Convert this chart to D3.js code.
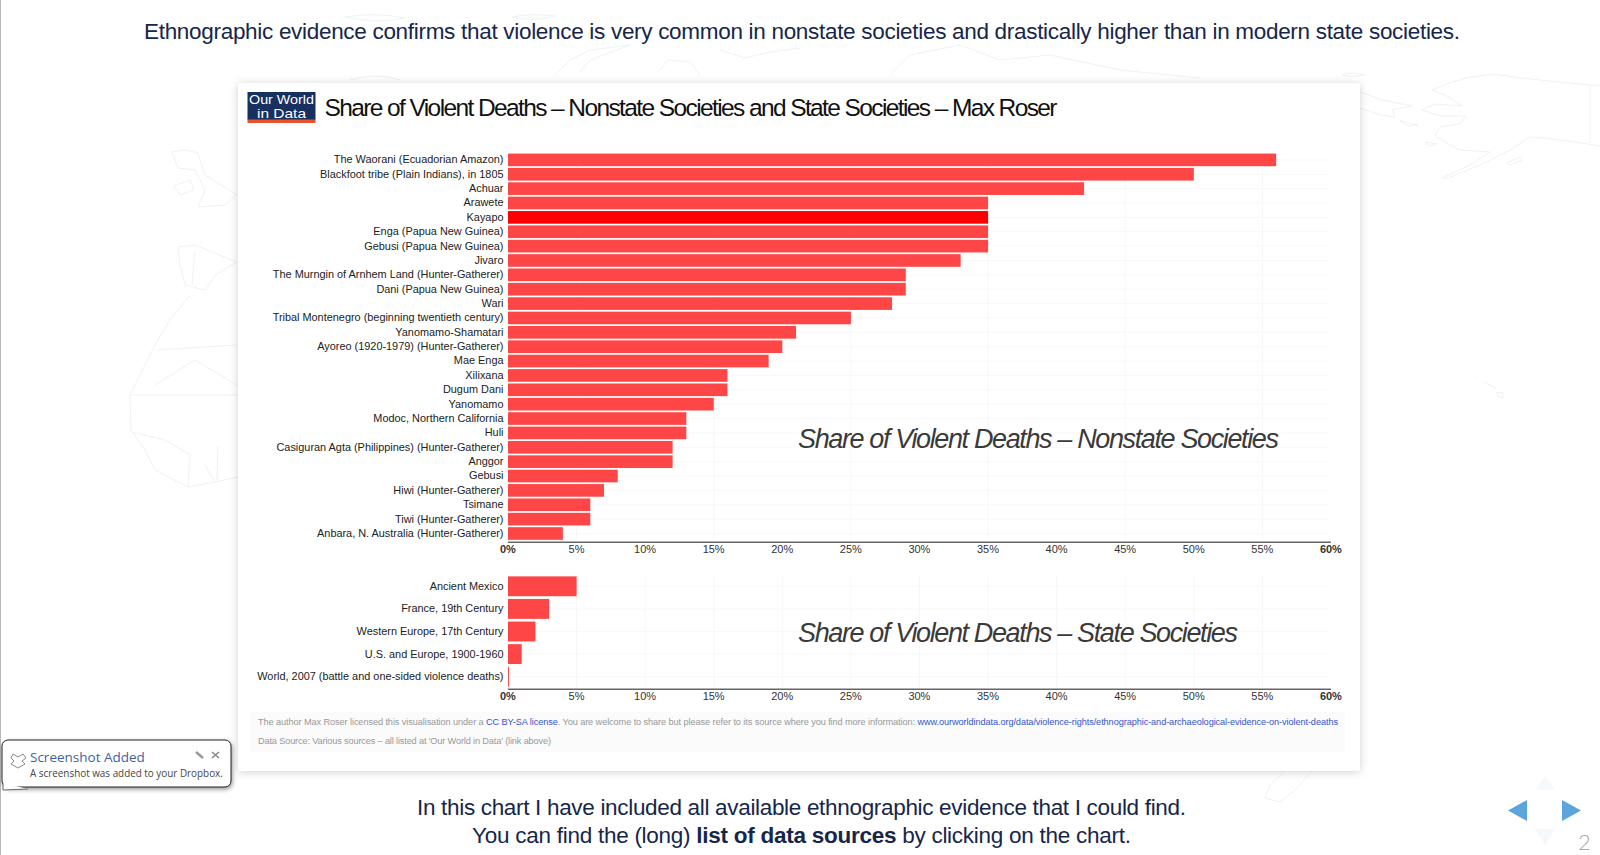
<!DOCTYPE html>
<html>
<head>
<meta charset="utf-8">
<script src="https://cdn.jsdelivr.net/npm/d3@7"></script>
<style>
  html, body { margin: 0; padding: 0; background: #fff; overflow: hidden; }
  svg { display: block; font-family: "Liberation Sans", Arial, sans-serif; }
</style>
</head>
<body>
<svg id="slide" width="1600" height="855"></svg>
<script>
var nonstateNames = [
  "The Waorani (Ecuadorian Amazon)", "Blackfoot tribe (Plain Indians), in 1805", "Achuar", "Arawete",
  "Kayapo", "Enga (Papua New Guinea)", "Gebusi (Papua New Guinea)", "Jivaro",
  "The Murngin of Arnhem Land (Hunter-Gatherer)", "Dani (Papua New Guinea)", "Wari",
  "Tribal Montenegro (beginning twentieth century)", "Yanomamo-Shamatari", "Ayoreo (1920-1979) (Hunter-Gatherer)",
  "Mae Enga", "Xilixana", "Dugum Dani", "Yanomamo", "Modoc, Northern California", "Huli",
  "Casiguran Agta (Philippines) (Hunter-Gatherer)", "Anggor", "Gebusi", "Hiwi (Hunter-Gatherer)",
  "Tsimane", "Tiwi (Hunter-Gatherer)", "Anbara, N. Australia (Hunter-Gatherer)"
];
var nonstateValues = [56, 50, 42, 35, 35, 35, 35, 33, 29, 29, 28, 25, 21, 20, 19, 16, 16, 15, 13, 13, 12, 12, 8, 7, 6, 6, 4];
var stateNames = [
  "Ancient Mexico", "France, 19th Century", "Western Europe, 17th Century",
  "U.S. and Europe, 1900-1960", "World, 2007 (battle and one-sided violence deaths)"
];
var stateValues = [5, 3, 2, 1, 0.07];
var highlighted = "Kayapo";
var xTicks = [0, 5, 10, 15, 20, 25, 30, 35, 40, 45, 50, 55, 60];

// faint world map behind the card, traced by eye
var mapOutlines = [
  "M1600,86 L1590,85 L1560,82 L1520,78 L1494,74 L1470,77 L1452,82 L1432,90 L1445,95 L1462,106 L1435,104 L1422,110 L1440,116 L1466,116 L1460,124 L1440,127 L1435,135 L1445,142 L1460,150 L1490,152 L1470,165 L1442,178 L1448,178 L1480,165 L1510,150 L1525,140 L1530,137 L1545,138 L1575,142 L1600,146",
  "M1590,85 L1590,143",
  "M1360,92 L1382,100 L1412,106 L1392,110 L1395,117 L1380,115 L1360,108",
  "M1342,75 Q1352,71 1364,75 Q1352,78 1342,75",
  "M1400,121 L1418,125 L1408,126 Z", "M1425,142 L1437,144 L1430,146 Z",
  "M1506,163 L1520,157 L1522,160 L1510,165 Z",
  "M1476,378 L1478,378 M1484,382 L1496,388 M1497,392 L1503,393 L1503,398 L1498,396 Z",
  "M172,152 L185,150 L198,153 L205,175 L237,195 L225,205 L198,207 L205,190 L195,170 L178,168 Z",
  "M174,186 L190,180 L194,190 L180,195 Z",
  "M178,247 L195,245 L237,262 L215,275 L205,290 L185,285 L180,265 Z",
  "M195,250 L192,285",
  "M190,295 L170,320 L155,345 L130,395 L131,430 L145,450 L155,470 L188,487 L215,482 L238,477",
  "M158,350 L237,345 M195,360 L237,385 M155,385 L195,360 M130,395 L237,395",
  "M132,432 L165,440 L190,455 L188,487 M205,465 L215,482 M218,446 L217,480",
  "M345,17 Q375,12 405,18 Q380,24 345,17", "M512,17 Q530,13 555,16 Q535,22 512,17",
  "M555,75 L570,60 L590,50 L630,45 L590,60 L580,72", "M660,70 L668,60 L690,62 L700,75",
  "M720,50 L745,58 L770,52 L800,48", "M350,80 Q375,72 400,80",
  "M890,75 L910,55 L960,45 L1000,60 L1050,55 L1120,70 L1200,78",
  "M1285,771 L1270,785 L1265,798 L1280,802 L1295,790 L1312,771"
];

var svg = d3.select("#slide");

var maps = svg.append("g").attr("fill", "none").attr("stroke", "#edf3f7").attr("stroke-width", 1);
maps.selectAll("path").data(mapOutlines).enter().append("path").attr("d", (d) => d);

// grey edge of the slide
svg.append("rect").attr("x", 0).attr("y", 0).attr("width", 1).attr("height", 855).attr("fill", "#b8b8b8");

function slideText(str, x, y, width) {
  return svg.append("text")
    .attr("x", x).attr("y", y)
    .attr("font-size", 22.5)
    .attr("fill", "#16264a")
    .attr("textLength", width)
    .attr("lengthAdjust", "spacing")
    .text(str);
}
slideText("Ethnographic evidence confirms that violence is very common in nonstate societies and drastically higher than in modern state societies.", 144, 39, 1316);
slideText("In this chart I have included all available ethnographic evidence that I could find.", 417, 815, 769);

var lastLine = svg.append("text").attr("x", 472).attr("y", 843).attr("font-size", 22.5).attr("fill", "#16264a")
  .attr("textLength", 659).attr("lengthAdjust", "spacing");
lastLine.append("tspan").text("You can find the (long) ");
lastLine.append("tspan").attr("font-weight", "bold").text("list of data sources");
lastLine.append("tspan").text(" by clicking on the chart.");

// the card holding the chart
svg.append("rect")
  .attr("x", 238).attr("y", 83).attr("width", 1122).attr("height", 688)
  .attr("fill", "#fff")
  .style("filter", "drop-shadow(0 1px 4px rgba(0,0,0,0.18))");

// logo
svg.append("rect").attr("x", 247.5).attr("y", 92).attr("width", 68).attr("height", 28).attr("fill", "#17305f");
svg.append("rect").attr("x", 247.5).attr("y", 119.5).attr("width", 68).attr("height", 3.5).attr("fill", "#e8532b");
svg.append("text").attr("x", 249).attr("y", 103.5).attr("font-size", 12.8).attr("fill", "#fff")
  .attr("textLength", 65).attr("lengthAdjust", "spacingAndGlyphs").text("Our World");
svg.append("text").attr("x", 257).attr("y", 118).attr("font-size", 12.8).attr("fill", "#fff")
  .attr("textLength", 49).attr("lengthAdjust", "spacingAndGlyphs").text("in Data");

svg.append("text")
  .attr("x", 324.5).attr("y", 115.5)
  .attr("font-size", 24.5).attr("fill", "#111")
  .attr("textLength", 733).attr("lengthAdjust", "spacing")
  .text("Share of Violent Deaths \u2013 Nonstate Societies and State Societies \u2013 Max Roser");

var x = d3.scaleLinear().domain([0, 60]).range([508, 1331]);

function drawPanel(names, values, y0, y1, axisY, gridTicks) {
  var y = d3.scaleBand().domain(names).range([y0, y1]).paddingInner(0.12).paddingOuter(0.06);
  var g = svg.append("g");

  // faint grid
  g.selectAll("line.h").data(names).enter().append("line")
    .attr("class", "h")
    .attr("x1", x(0)).attr("x2", 1328)
    .attr("y1", (d) => y(d) + y.bandwidth() / 2).attr("y2", (d) => y(d) + y.bandwidth() / 2)
    .attr("stroke", "#f8f8f8");
  g.selectAll("line.v").data(gridTicks).enter().append("line")
    .attr("class", "v")
    .attr("x1", (d) => x(d)).attr("x2", (d) => x(d))
    .attr("y1", y0).attr("y2", axisY)
    .attr("stroke", "#f7f7f7");

  g.selectAll("rect").data(names).enter().append("rect")
    .attr("x", x(0))
    .attr("y", (d) => y(d))
    .attr("height", y.bandwidth())
    .attr("width", (d, i) => x(values[i]) - x(0))
    .attr("fill", (d) => (d === highlighted ? "#ff0000" : "#ff4646"));

  g.selectAll("text.name").data(names).enter().append("text")
    .attr("class", "name")
    .attr("x", 503.5)
    .attr("y", (d) => y(d) + y.bandwidth() / 2 + 3.4)
    .attr("text-anchor", "end")
    .attr("font-size", 10.9)
    .attr("fill", "#222")
    .text((d) => d);

  var axis = d3.axisBottom(x).tickValues(xTicks).tickSize(0).tickPadding(4).tickFormat((d) => d + "%");
  var ax = svg.append("g").attr("transform", "translate(-0.6," + axisY + ")").call(axis);
  ax.select(".domain").attr("stroke", "#666").attr("stroke-width", 1.5);
  ax.selectAll("text")
    .attr("font-family", "Liberation Sans")
    .attr("font-size", 11)
    .attr("fill", "#333")
    .attr("font-weight", (d) => (d === 0 || d === 60 ? "bold" : "normal"));
}

drawPanel(nonstateNames, nonstateValues, 152.7, 540.7, 541.7, [5, 15, 25, 35, 45, 55]);
drawPanel(stateNames, stateValues, 575, 688, 688.7, [5, 10, 15, 20, 25, 30, 35, 40, 45, 50, 55]);

function panelCaption(str, y, width) {
  svg.append("text")
    .attr("x", 798).attr("y", y)
    .attr("font-size", 27).attr("font-style", "italic").attr("fill", "#3a3a3a")
    .attr("textLength", width).attr("lengthAdjust", "spacing")
    .text(str);
}
panelCaption("Share of Violent Deaths \u2013 Nonstate Societies", 448, 481);
panelCaption("Share of Violent Deaths \u2013 State Societies", 642, 440);

// footer
svg.append("rect").attr("x", 250).attr("y", 712).attr("width", 1095).attr("height", 40).attr("fill", "#fbfbfb");
var foot = svg.append("text").attr("x", 258).attr("y", 725).attr("font-size", 9.2).attr("fill", "#999")
  .attr("textLength", 1080).attr("lengthAdjust", "spacing");
foot.append("tspan").text("The author Max Roser licensed this visualisation under a ");
foot.append("tspan").attr("fill", "#3355cc").text("CC BY-SA license");
foot.append("tspan").text(". You are welcome to share but please refer to its source where you find more information: ");
foot.append("tspan").attr("fill", "#3355cc").text("www.ourworldindata.org/data/violence-rights/ethnographic-and-archaeological-evidence-on-violent-deaths");
svg.append("text").attr("x", 258).attr("y", 744).attr("font-size", 9.2).attr("fill", "#999")
  .attr("textLength", 293).attr("lengthAdjust", "spacing")
  .text("Data Source: Various sources \u2013 all listed at 'Our World in Data' (link above)");

// dropbox notification
var note = svg.append("g").attr("font-family", "Open Sans");
note.append("rect").attr("x", 2).attr("y", 740).attr("width", 229).attr("height", 47).attr("rx", 6)
  .attr("fill", "#fff").attr("stroke", "#222").attr("stroke-width", 1)
  .style("filter", "drop-shadow(1px 2px 2px rgba(0,0,0,0.4))");
note.append("path").attr("d", "M3,783 L3,790 L28,789").attr("fill", "#fff").attr("stroke", "#666");
note.append("path").attr("d", "M13,754 L18,757 L23,754 L26,758 L22,761 L25,764 L18,768 L11,764 L14,761 L11,758 Z")
  .attr("fill", "none").attr("stroke", "#888").attr("stroke-width", 1);
note.append("text").attr("x", 30).attr("y", 762).attr("font-size", 13.5).attr("fill", "#3f5f9f").text("Screenshot Added");
note.append("text").attr("x", 30).attr("y", 777).attr("font-size", 9.9).attr("fill", "#444").text("A screenshot was added to your Dropbox.");
note.append("path").attr("d", "M196,752 L203,758").attr("stroke", "#999").attr("stroke-width", 2.5);
note.append("path").attr("d", "M212,752 L219,758 M219,752 L212,758").attr("stroke", "#888").attr("stroke-width", 1.6);

// slide navigation
var arrows = [
  { d: "M1527,800 L1527,821 L1508,810.5 Z", c: "#5ba5dc" },
  { d: "M1562,800 L1562,821 L1581,810.5 Z", c: "#5ba5dc" },
  { d: "M1535,790 L1555,790 L1545,776 Z", c: "#f4f9fc" },
  { d: "M1535,829 L1555,829 L1545,845 Z", c: "#f4f9fc" }
];
svg.selectAll("path.nav").data(arrows).enter().append("path")
  .attr("class", "nav").attr("d", (d) => d.d).attr("fill", (d) => d.c);
svg.append("text").attr("x", 1578).attr("y", 850).attr("font-family", "Lato").attr("font-weight", 300)
  .attr("font-size", 22).attr("fill", "#aaa").text("2");
</script>
</body>
</html>
